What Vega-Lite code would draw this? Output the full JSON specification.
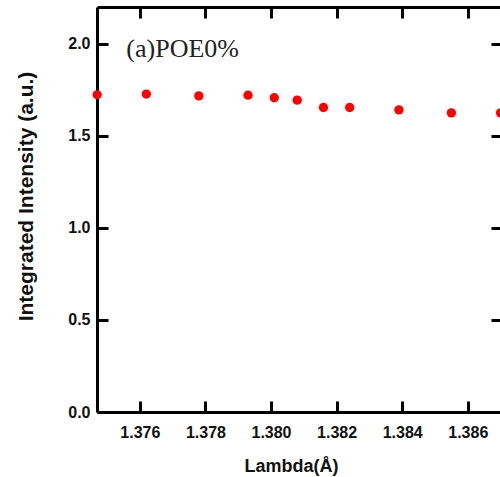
{
  "$schema": "https://vega.github.io/schema/vega-lite/v6.json",
  "width": 405,
  "height": 405,
  "autosize": {"type": "none"},
  "padding": {"left": 97, "top": 7, "right": 0, "bottom": 65},
  "background": "white",
  "config": {
    "view": {"stroke": null},
    "axis": {
      "domainColor": "black",
      "domainWidth": 3,
      "tickColor": "black",
      "tickWidth": 3,
      "tickSize": -11,
      "grid": false,
      "labelFont": "Liberation Sans",
      "labelFontWeight": "bold",
      "labelFontSize": 16,
      "labelColor": "#111",
      "titleFont": "Liberation Sans",
      "titleFontWeight": "bold",
      "titleColor": "#111"
    }
  },
  "layer": [
    {
      "data": {
        "values": [
          {"lambda": 1.3747, "I": 1.723},
          {"lambda": 1.3762, "I": 1.727},
          {"lambda": 1.3778, "I": 1.717},
          {"lambda": 1.3793, "I": 1.721},
          {"lambda": 1.3801, "I": 1.707},
          {"lambda": 1.3808, "I": 1.694},
          {"lambda": 1.3816, "I": 1.654},
          {"lambda": 1.3824, "I": 1.654},
          {"lambda": 1.3839, "I": 1.641},
          {"lambda": 1.3855, "I": 1.625},
          {"lambda": 1.3870, "I": 1.625}
        ]
      },
      "mark": {"type": "point", "filled": true, "shape": "circle", "size": 87, "color": "#ff0000", "opacity": 1},
      "encoding": {
        "x": {
          "field": "lambda", "type": "quantitative",
          "scale": {"domain": [1.374695, 1.387043], "nice": false, "zero": false},
          "axis": {
            "orient": "bottom",
            "values": [1.376, 1.378, 1.380, 1.382, 1.384, 1.386],
            "format": ".3f",
            "labelPadding": 23,
            "title": "Lambda(Å)",
            "titleFontSize": 18,
            "titleX": 194,
            "titleY": 59,
            "titleBaseline": "alphabetic"
          }
        },
        "y": {
          "field": "I", "type": "quantitative",
          "scale": {"domain": [0, 2.2], "nice": false},
          "axis": {
            "orient": "left",
            "values": [0, 0.5, 1.0, 1.5, 2.0],
            "format": ".1f",
            "labelPadding": 18,
            "title": "Integrated Intensity (a.u.)",
            "titleFontSize": 21,
            "titleX": -65,
            "titleY": 189,
            "titleBaseline": "alphabetic"
          }
        }
      }
    },
    {
      "data": {"values": [{"lambda": 1.37559, "I": 1.93, "label": "(a)POE0%"}]},
      "mark": {"type": "text", "align": "left", "baseline": "alphabetic", "font": "Liberation Serif", "fontSize": 26, "color": "#222"},
      "encoding": {
        "x": {
          "field": "lambda", "type": "quantitative",
          "axis": {"orient": "top", "values": [1.376, 1.378, 1.380, 1.382, 1.384, 1.386], "labels": false, "title": null}
        },
        "y": {
          "field": "I", "type": "quantitative",
          "axis": {"orient": "right", "values": [0, 0.5, 1.0, 1.5, 2.0], "labels": false, "title": null}
        },
        "text": {"field": "label"}
      }
    }
  ],
  "resolve": {"axis": {"x": "independent", "y": "independent"}}
}
